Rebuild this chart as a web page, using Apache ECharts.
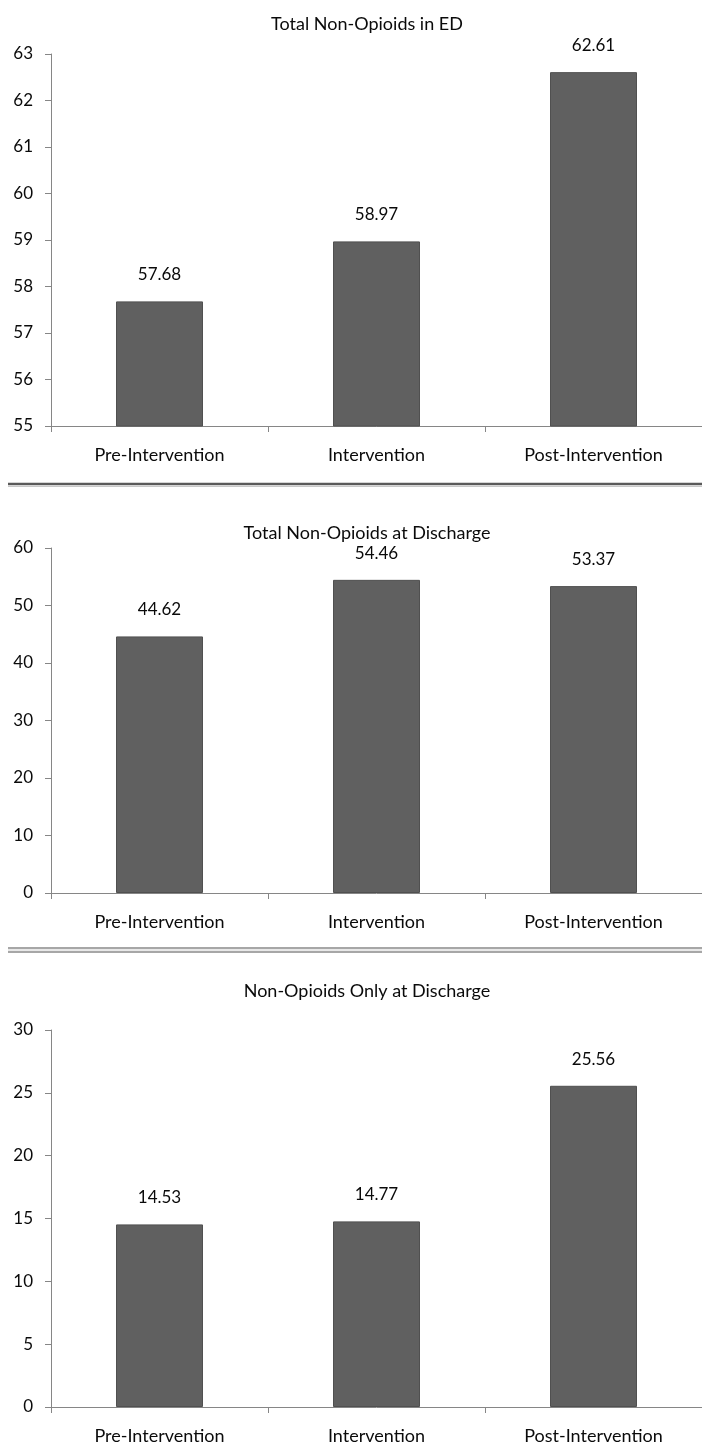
<!DOCTYPE html>
<html>
<head>
<meta charset="utf-8">
<script src="https://cdn.jsdelivr.net/npm/echarts@6/dist/echarts.min.js"></script>
<style>
html,body{margin:0;padding:0;background:#fff;}
#main{width:702px;height:1450px;}
</style>
</head>
<body>
<div id="main"></div>
<script>
// ---- data ----
const categories = ['Pre-Intervention', 'Intervention', 'Post-Intervention'];
const titles = ['Total Non-Opioids in ED', 'Total Non-Opioids at Discharge', 'Non-Opioids Only at Discharge'];
const edTotal = [57.68, 58.97, 62.61];
const dischargeTotal = [44.62, 54.46, 53.37];
const dischargeOnly = [14.53, 14.77, 25.56];
const yMins = [55, 0, 0];
const yMaxs = [63, 60, 30];
const yIntervals = [1, 10, 5];

const seriesData = [edTotal, dischargeTotal, dischargeOnly];
const FONT = 'Lato, "Open Sans", sans-serif';
const grids = [
  {left: 51, right: 0, top: 54, height: 372},
  {left: 51, right: 0, top: 548, height: 345},
  {left: 51, right: 0, top: 1030, height: 377}
];
const titleTops = [10, 519, 977];

const chart = echarts.init(document.getElementById('main'), null, {renderer: 'canvas'});
const axisColor = '#868686';
const textColor = '#0a0a0a';

const option = {
  backgroundColor: '#fff',
  animation: false,
  title: titles.map((t, i) => ({
    text: t, left: 362, top: titleTops[i], textAlign: 'center',
    textStyle: {fontFamily: FONT, fontSize: 18, fontWeight: 'normal', color: textColor}
  })),
  grid: grids,
  xAxis: grids.map((g, i) => ({
    type: 'category', gridIndex: i, data: categories,
    axisLine: {lineStyle: {color: axisColor, width: 1}},
    axisTick: {show: true, alignWithLabel: false, length: 6, lineStyle: {color: axisColor}},
    axisLabel: {fontFamily: FONT, fontSize: 18, color: textColor, margin: 20}
  })),
  yAxis: grids.map((g, i) => ({
    type: 'value', gridIndex: i, min: yMins[i], max: yMaxs[i], interval: yIntervals[i],
    axisLine: {show: true, lineStyle: {color: axisColor, width: 1}},
    axisTick: {show: true, length: 6, lineStyle: {color: axisColor}},
    splitLine: {show: false},
    axisLabel: {fontFamily: FONT, fontSize: 17, color: textColor, margin: 18}
  })),
  series: seriesData.map((d, i) => ({
    type: 'bar', xAxisIndex: i, yAxisIndex: i, data: d, barWidth: 87,
    itemStyle: {color: '#606060', borderColor: '#505050', borderWidth: 1},
    label: {
      show: true, position: 'top', distance: 18,
      fontFamily: FONT, fontSize: 17, color: textColor,
      formatter: p => p.value.toFixed(2)
    }
  })),
  graphic: [
    {type: 'line', shape: {x1: 8, y1: 484, x2: 702, y2: 484}, style: {stroke: '#5a5a5a', lineWidth: 2.5}},
    {type: 'line', shape: {x1: 8, y1: 486.5, x2: 702, y2: 486.5}, style: {stroke: '#c8c8c8', lineWidth: 1}},
    {type: 'line', shape: {x1: 8, y1: 948, x2: 702, y2: 948}, style: {stroke: '#8a8a8a', lineWidth: 1.5}},
    {type: 'line', shape: {x1: 8, y1: 950, x2: 702, y2: 950}, style: {stroke: '#e0e0e0', lineWidth: 1.5}},
    {type: 'line', shape: {x1: 8, y1: 952, x2: 702, y2: 952}, style: {stroke: '#8a8a8a', lineWidth: 1.5}}
  ]
};
chart.setOption(option);
</script>
</body>
</html>
